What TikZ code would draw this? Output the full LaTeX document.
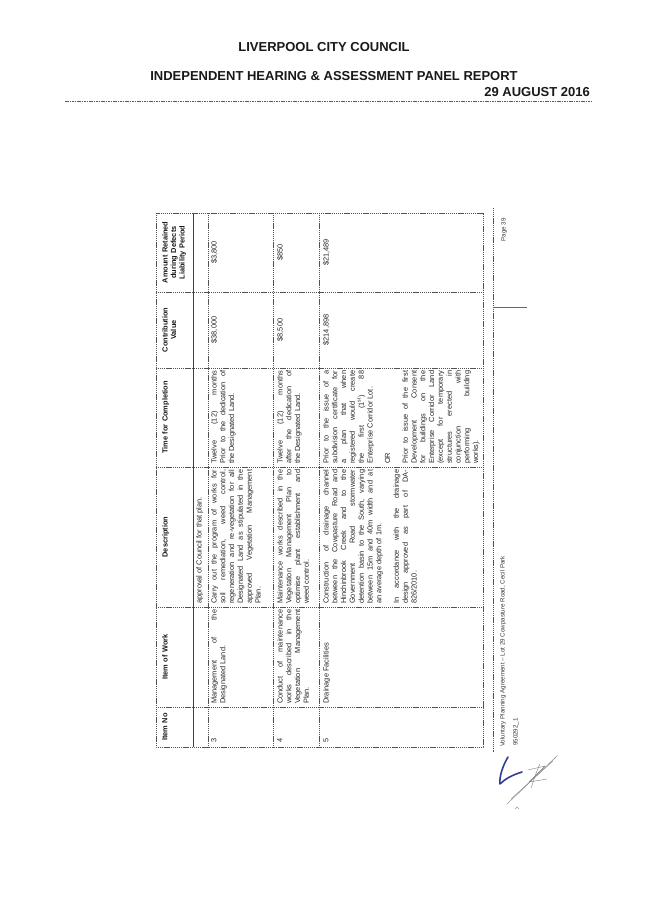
\documentclass[tikz,border=0pt]{standalone}
\usepackage{fontspec}
\setmainfont{Liberation Sans}
\definecolor{sigblue}{RGB}{50,62,150}
\begin{document}
\begin{tikzpicture}[x=1pt,y=1pt]
\useasboundingbox[fill=white] (0,0) rectangle (653,-923);
\tikzset{
 pagehead/.style={font=\bfseries\fontsize{13}{15}\selectfont, text=black!90, inner sep=0pt},
 tline/.style={draw=black!68, line width=0.55pt, dash pattern=on 1.2pt off 0.7pt},
 bodycell/.style={rotate=90, anchor=north west, inner sep=0pt, text width=#1, align=justify, font=\fontsize{7.4}{8.8}\selectfont, text=black!85},
 numcell/.style={rotate=90, anchor=north, inner sep=0pt, font=\fontsize{7.4}{8.8}\selectfont, text=black!85},
 colhead/.style={rotate=90, anchor=north, inner sep=0pt, text width=#1, align=center, font=\bfseries\fontsize{7.4}{8.5}\selectfont, text=black!90},
 foottext/.style={rotate=90, inner sep=0pt, font=\fontsize{6.2}{7}\selectfont, text=black!78},
}
% page header
\node[pagehead] (t1) at (324,-47) {LIVERPOOL CITY COUNCIL};
\node[pagehead] (t2) at (334,-76) {INDEPENDENT HEARING \& ASSESSMENT PANEL REPORT};
\node[pagehead, anchor=east] (t3) at (590,-92) {29 AUGUST 2016};
\draw[black!65, line width=0.6pt, dash pattern=on 1.5pt off 0.9pt] (65,-101) -- (592,-101);

% table grid
\draw[tline] (156,-213) rectangle (483,-747);
\draw[black!75, line width=0.8pt] (193,-213) -- (193,-747);
\foreach \xx in {208,273,319} \draw[tline] (\xx,-213) -- (\xx,-747);
\foreach \yy in {292,368,467,607,707} \draw[tline] (156,-\yy) -- (483,-\yy);

% column headers
\node[colhead=73pt] (hA) at (162,-252.5) {Amount Retained\\ during Defects\\ Liability Period};
\node[colhead=70pt] (hC) at (162,-330) {Contribution\\ Value};
\node[colhead=93pt] (hT) at (162,-417.5) {Time for Completion};
\node[colhead=134pt] (hD) at (162,-537) {Description};
\node[colhead=94pt] (hW) at (162,-657) {Item of Work};
\node[colhead=34pt] (hN) at (162,-727) {Item No};

% continuation row
\node[bodycell=134pt] (c0) at (196,-604) {approval of Council for that plan.};

% row 3
\node[bodycell=34pt] (n3) at (211,-743) {3};
\node[bodycell=94pt] (w3) at (211,-704) {Management of the\linebreak Designated Land.};
\node[bodycell=134pt] (d3) at (211,-604) {Carry out the program of works for\linebreak soil remediation, weed control,\linebreak regeneration and re-vegetation for all\linebreak Designated Land as stipulated in the\linebreak approved Vegetation Management\linebreak Plan.};
\node[bodycell=93pt] (tm3) at (211,-464) {Twelve (12) months\linebreak Prior to the dedication of\linebreak the Designated Land.};
\node[numcell] (v3) at (211,-330) {\$38,000};
\node[numcell] (a3) at (211,-252.5) {\$3,800};

% row 4
\node[bodycell=34pt] (n4) at (277,-743) {4};
\node[bodycell=94pt] (w4) at (277,-704) {Conduct of maintenance\linebreak works described in the\linebreak Vegetation Management\linebreak Plan.};
\node[bodycell=134pt] (d4) at (277,-604) {Maintenance works described in the\linebreak Vegetation Management Plan to\linebreak optimise plant establishment and\linebreak weed control.};
\node[bodycell=93pt] (tm4) at (277,-464) {Twelve (12) months\linebreak after the dedication of\linebreak the Designated Land.};
\node[numcell] (v4) at (277,-330) {\$8,500};
\node[numcell] (a4) at (277,-252.5) {\$850};

% row 5
\node[bodycell=34pt] (n5) at (323,-743) {5};
\node[bodycell=94pt] (w5) at (323,-704) {Drainage Facilities};
\node[bodycell=134pt] (d5) at (323,-604) {Construction of drainage channel\linebreak between the Cowpasture Road and\linebreak Hinchinbrook Creek and to the\linebreak Government Road stormwater\linebreak detention basin to the South, varying\linebreak between 15m and 40m width and at\linebreak an average depth of 1m.\par\vskip 8.8pt In accordance with the drainage\linebreak design approved as part of DA-\linebreak 826/2010.};
\node[bodycell=93pt] (tm5) at (323,-464) {Prior to the issue of a\linebreak subdivision certificate for\linebreak a plan that when\linebreak registered would create\linebreak the first (1\textsuperscript{st}) 88\linebreak Enterprise Corridor Lot.\par\vskip 8.8pt OR\par\vskip 8.8pt Prior to issue of the first\linebreak Development Consent\linebreak for buildings on the\linebreak Enterprise Corridor Land\linebreak (except for temporary\linebreak structures erected in\linebreak conjunction with\linebreak performing building\linebreak works).};
\node[numcell] (v5) at (323,-330) {\$214,898};
\node[numcell] (a5) at (323,-252.5) {\$21,489};

% footer of the rotated page
\draw[tline] (493,-208) -- (493,-752);
\draw[black!60, line width=0.5pt] (493,-307) -- (527,-307);
\node[foottext, anchor=west] (f1) at (503,-747) {Voluntary Planning Agreement – Lot 29 Cowpasture Road, Cecil Park};
\node[foottext, anchor=west] (f2) at (516,-746) {950292\_1};
\node[foottext, anchor=east] (f3) at (504,-218) {Page 39};

% signature
\draw[sigblue, line width=1.6pt, line cap=round, line join=round] (508,-757) .. controls (503,-765) and (499,-777) .. (500,-784) .. controls (505,-779) and (512,-775) .. (522,-772);
\draw[black!50, line width=0.4pt, line cap=round] (507,-804) -- (556,-757);
\draw[black!45, line width=0.4pt, line cap=round] (511,-799) -- (553,-761);
\draw[black!40, line width=0.3pt, line cap=round] (515,-796) -- (558,-755);
\draw[black!50, line width=0.4pt, line cap=round, line join=round] (528,-770) -- (545,-766) -- (529,-782) -- (547,-779);
\draw[black!50, line width=0.4pt, line cap=round, line join=round] (540,-764) .. controls (536,-772) and (534,-780) .. (531,-788);
\draw[black!40, line width=0.4pt] (515,-809) -- (517,-807) -- (519,-809);
\end{tikzpicture}
\end{document}
